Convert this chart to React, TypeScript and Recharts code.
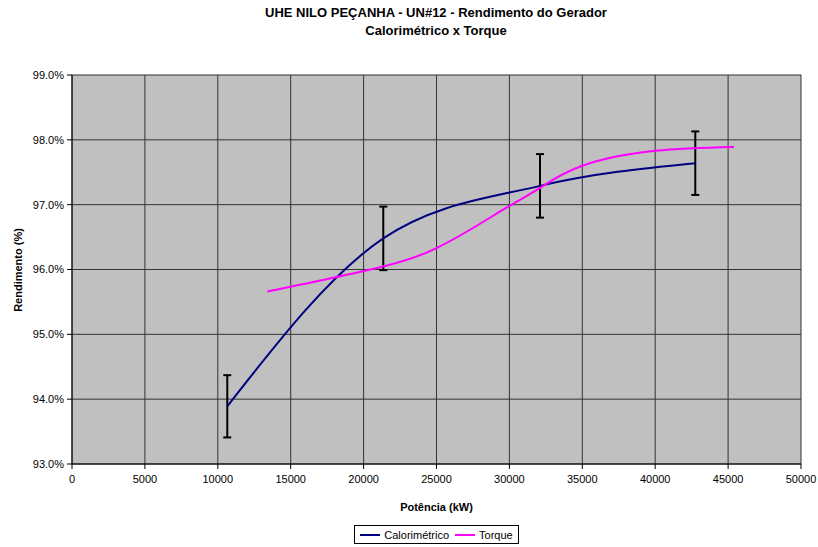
import React from "react";
import {
    ComposedChart,
    Line,
    XAxis,
    YAxis,
    CartesianGrid,
    ErrorBar,
} from "recharts";

// Calorimétrico (with error bars)
const calPower = [10650, 21350, 32100, 42750];
const calEff = [93.89, 96.48, 97.29, 97.64];
const calErr = [0.48, 0.49, 0.49, 0.49];

// Torque
const torPower = [13400, 21400, 25000, 27500, 30000, 32100, 35000, 40000, 45400];
const torEff = [95.66, 96.05, 96.33, 96.64, 96.98, 97.26, 97.6, 97.83, 97.89];

const xTicks = [0, 5000, 10000, 15000, 20000, 25000, 30000, 35000, 40000, 45000, 50000];
const yTicks = [93, 94, 95, 96, 97, 98, 99];

const calData = calPower.map((x, i) => ({ x, cal: calEff[i], err: calErr[i] }));
const torData = torPower.map((x, i) => ({ x, tor: torEff[i] }));

const FONT = "'Liberation Sans', Arial, sans-serif";

const YLabel = () => (
    <text
        x={0}
        y={0}
        transform="translate(22, 270) rotate(-90)"
        textAnchor="middle"
        fontSize={11}
        fontWeight="bold"
        fill="#000"
        fontFamily={FONT}
    >
        Rendimento (%)
    </text>
);

const App: React.FC = () => {
    return (
        <div
            style={{
                position: "absolute",
                left: 0,
                top: 0,
                width: 818,
                height: 547,
                background: "#fff",
                fontFamily: FONT,
            }}
        >
            <div
                style={{
                    position: "absolute",
                    left: 236,
                    width: 400,
                    top: 4,
                    textAlign: "center",
                    fontSize: 13,
                    fontWeight: "bold",
                    lineHeight: "18px",
                }}
            >
                UHE NILO PEÇANHA - UN#12 - Rendimento do Gerador
                <br />
                Calorimétrico x Torque
            </div>
            <ComposedChart
                width={818}
                height={547}
                margin={{ top: 75, right: 17, bottom: 0, left: 0 }}
            >
                <CartesianGrid
                    fill="#C0C0C0"
                    stroke="#333"
                    strokeWidth={1}
                    horizontalValues={yTicks}
                    verticalValues={xTicks}
                />
                <XAxis
                    type="number"
                    dataKey="x"
                    domain={[0, 50000]}
                    ticks={xTicks}
                    allowDuplicatedCategory={false}
                    height={83}
                    stroke="#000"
                    tick={{ fill: "#000", fontSize: 11 }}
                    tickSize={5}
                    tickMargin={6}
                    label={{
                        value: "Potência (kW)",
                        position: "insideBottom",
                        offset: 36,
                        fill: "#000",
                        fontSize: 11,
                        fontWeight: "bold",
                    }}
                />
                <YAxis
                    type="number"
                    domain={[93, 99]}
                    ticks={yTicks}
                    width={72}
                    stroke="#000"
                    tick={{ fill: "#000", fontSize: 11 }}
                    tickSize={5}
                    tickMargin={3}
                    tickFormatter={(v: number) => v.toFixed(1) + "%"}
                    label={<YLabel />}
                />
                <Line
                    data={calData}
                    dataKey="cal"
                    name="Calorimétrico"
                    type="monotone"
                    stroke="#000080"
                    strokeWidth={2}
                    dot={false}
                    isAnimationActive={false}
                >
                    <ErrorBar
                        dataKey="err"
                        direction="y"
                        width={4}
                        stroke="#000"
                        strokeWidth={2}
                        isAnimationActive={false}
                    />
                </Line>
                <Line
                    data={torData}
                    dataKey="tor"
                    name="Torque"
                    type="natural"
                    stroke="#FF00FF"
                    strokeWidth={2}
                    dot={false}
                    isAnimationActive={false}
                />
            </ComposedChart>
            <div
                style={{
                    position: "absolute",
                    left: 354,
                    top: 525,
                    width: 165,
                    height: 19,
                    border: "1px solid #000",
                    boxSizing: "border-box",
                    display: "flex",
                    alignItems: "center",
                    justifyContent: "center",
                    fontSize: 11,
                    gap: 4,
                }}
            >
                <span style={{ display: "inline-block", width: 20, height: 2, background: "#000080" }} />
                <span>Calorimétrico</span>
                <span style={{ display: "inline-block", width: 20, height: 2, background: "#FF00FF", marginLeft: 2 }} />
                <span>Torque</span>
            </div>
        </div>
    );
};

export default App;
